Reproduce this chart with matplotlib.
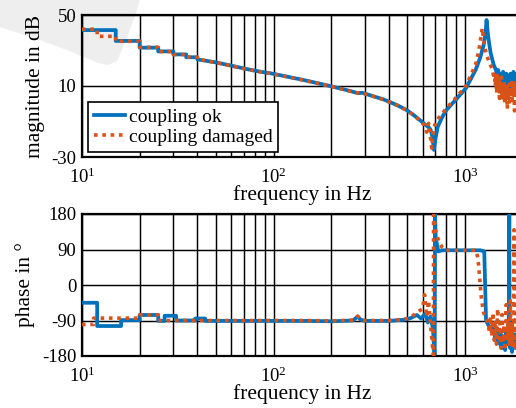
import numpy as np
import matplotlib
matplotlib.use("Agg")
import matplotlib.pyplot as plt
from matplotlib.patches import Polygon

# magnitude, coupling ok
mag_ok_f = [10, 15, 15, 20, 20, 25, 25, 30, 30, 35, 35, 40, 40, 50, 60, 72, 85, 96, 120, 143,
            170, 197, 225, 251, 277, 290, 300, 330, 374, 440, 495, 538, 560, 590, 620, 645, 660,
            672, 688, 700, 720, 760, 800, 890, 1010, 1135, 1200, 1250, 1280, 1295, 1320, 1360,
            1410, 1450, 1475, 1490, 1505, 1520, 1535, 1550, 1565, 1580, 1595, 1610, 1625, 1640,
            1655, 1670, 1685, 1700, 1715, 1730, 1745, 1760, 1775, 1790, 1805, 1820, 1835, 1850,
            1870, 1900]
mag_ok = [41.5, 41.5, 35.4, 35.4, 31.6, 31.6, 29.5, 29.5, 27.8, 27.8, 26.2, 26.2, 25.0, 23.3,
          21.5, 19.6, 18.1, 17.2, 15.1, 13.4, 11.6, 10.0, 8.5, 7.2, 5.9, 6.2, 5.7, 4.3, 2.5,
          -0.7, -3.5, -6.3, -7.8, -9.8, -11.8, -13.2, -14.5, -17.5, -26, -20, -13, -7.5, -3.5,
          2.0, 8.7, 19, 26, 33, 40, 47.2, 38, 28.6, 22, 19, 15, 19, 12, 17, 9, 16, 13, 18, 8,
          15, 11, 17, 6, 14, 10, 16, 12, 17, 9, 15, 13, 18, 11, 16, 14, 17, 15, 16]

# magnitude, coupling damaged
mag_dmg_f = [10, 12, 12, 15, 15, 20, 20, 25, 25, 30, 30, 35, 35, 40, 40, 50, 60, 72, 85, 96,
             120, 143, 170, 197, 225, 251, 277, 290, 300, 330, 374, 440, 495, 538, 560, 590,
             615, 630, 645, 660, 670, 682, 695, 715, 760, 800, 890, 1010, 1135, 1180, 1230,
             1250, 1290, 1330, 1380, 1400, 1412, 1425, 1437, 1450, 1462, 1475, 1487, 1500,
             1512, 1525, 1537, 1550, 1562, 1575, 1587, 1600, 1612, 1625, 1637, 1650, 1662,
             1675, 1687, 1700, 1712, 1725, 1737, 1750, 1762, 1775, 1787, 1800, 1812, 1825,
             1837, 1850, 1870, 1900]
mag_dmg = [42, 42, 38, 38, 35.2, 35.2, 31.8, 31.8, 29.4, 29.4, 27.7, 27.7, 26.3, 26.3, 25.1,
           23.2, 21.4, 19.5, 18.0, 17.1, 15.0, 13.3, 11.5, 9.9, 8.4, 7.1, 6.0, 6.4, 5.6, 4.2,
           2.4, -0.8, -3.6, -6.4, -8.0, -10.5, -12, -16, -11, -19, -25, -15, -12, -9, -5.5,
           -2.5, 3.0, 10, 22, 30, 42.5, 36, 28, 24, 20, 18, 14, 17, 10, 15, 6, 16, 8, 14, 3,
           12, 7, 15, 2, 11, 5, 13, 0, 10, 4, 12, -3, 8, 3, 11, 1, 9, 5, 12, 2, 10, 6, 13,
           -4, 9, 4, 11, 7, 10]

# phase, coupling ok
ph_ok_f = [10, 12, 12, 16, 16, 20, 20, 25, 25, 27, 27, 31, 31, 39, 39, 44, 44, 100, 150, 200,
           260, 275, 285, 300, 400, 480, 520, 560, 590, 620, 640, 660, 680, 693, 697, 703,
           725, 760, 1200, 1260, 1287, 1320, 1340, 1370, 1400, 1420, 1440, 1460, 1480, 1500,
           1520, 1540, 1560, 1580, 1600, 1620, 1640, 1660, 1680, 1695, 1702, 1708, 1720,
           1740, 1760, 1780, 1800, 1820, 1840, 1860, 1900]
ph_ok = [-45, -45, -104, -104, -89, -89, -76, -76, -91, -91, -78, -78, -90, -90, -85, -85,
         -91, -91, -91, -92, -90, -80, -88, -91, -91, -88, -84, -76, -85, -72, -95, -80,
         -110, -177, 180, 120, 85, 88, 88, 85, -89, -101, -105, -112, -120, -108, -135, -115,
         -145, -120, -150, -125, -160, -130, -140, -165, -120, -150, -130, -60, 178, -90,
         -160, -130, -170, -140, -155, -125, -160, -140, -150]

# phase, coupling damaged
ph_dmg_f = [10, 11.5, 11.5, 20, 20, 25, 25, 100, 150, 200, 260, 275, 285, 300, 400, 480, 520,
            560, 600, 615, 630, 645, 660, 683, 685, 700, 730, 760, 790, 1140, 1165, 1180, 1200,
            1220, 1250, 1287, 1320, 1340, 1360, 1380, 1400, 1420, 1440, 1460, 1480, 1500,
            1520, 1540, 1560, 1580, 1600, 1620, 1640, 1660, 1680, 1700, 1720, 1740, 1760,
            1780, 1795, 1802, 1810, 1825, 1840, 1860, 1900]
ph_dmg = [-100, -100, -84, -84, -76, -76, -90, -90, -90, -91, -89, -79, -87, -90, -90, -87,
          -82, -70, -60, -25, -80, -40, -100, -178, 178, 140, 110, 95, 88, 88, 70, 45, 0, -38,
          -70, -85, -95, -120, -80, -130, -70, -140, -90, -150, -60, -135, -95, -160, -75,
          -145, -100, -165, -50, -140, -90, -155, -40, -150, -100, -160, -60, 140, -120,
          -165, -80, -150, -110]

mag_ticks = [-30, 10, 50]
ph_ticks = [-180, -90, 0, 90, 180]

blue = "#0072BD"
orange = "#D95319"

plt.rcParams["font.family"] = ["Liberation Serif", "DejaVu Serif"]
plt.rcParams["mathtext.fontset"] = "custom"
plt.rcParams["mathtext.rm"] = "Liberation Serif"
plt.rcParams["axes.unicode_minus"] = False

fig = plt.figure(figsize=(5.16, 4.08), dpi=100)
W, H = 516.0, 408.0
axw = 440.7 / W
ax1 = fig.add_axes([82 / W, 1 - 157 / H, axw, 142 / H])
ax2 = fig.add_axes([82 / W, 1 - 356 / H, axw, 142 / H])

# faint grey mark in the corner of the source image
pts = [(0, 0), (0, 27), (40, 40), (67, 50), (98, 63), (108, 65), (117, 61), (127, 38),
       (137, 10), (140, 0)]
ax1.add_patch(Polygon([(x / W, 1 - y / H) for x, y in pts], closed=True,
                      transform=fig.transFigure, facecolor="#eeeeee", edgecolor="none",
                      zorder=0.3, clip_on=False))

ax1.plot(mag_ok_f, mag_ok, color=blue, lw=2.7, label="coupling ok", zorder=3)
ax1.plot(mag_dmg_f, mag_dmg, color=orange, lw=2.6, dashes=(1, 1.3),
         label="coupling damaged", zorder=4)
ax2.plot(ph_ok_f, ph_ok, color=blue, lw=2.7, zorder=3)
ax2.plot(ph_dmg_f, ph_dmg, color=orange, lw=2.6, dashes=(1, 1.3), zorder=4)

for ax, ticks, lab in [(ax1, mag_ticks, "magnitude in dB"), (ax2, ph_ticks, "phase in °")]:
    ax.set_xscale("log")
    ax.set_xlim(10, 2000)
    ax.set_ylim(ticks[0], ticks[-1])
    ax.set_yticks(ticks)
    ax.set_xticks([10, 100, 1000])
    ax.grid(True, which="both", axis="x", color="black", lw=1.05, alpha=1)
    ax.grid(True, which="major", axis="y", color="black", lw=1.05, alpha=1)
    ax.set_axisbelow(True)
    ax.tick_params(axis="both", which="both", direction="in", labelsize=13.5, length=0)
    ax.tick_params(axis="x", pad=7.5)
    ax.tick_params(axis="y", pad=4)
    for s in ax.spines.values():
        s.set_linewidth(1.6)
    ax.set_xlabel("frequency in Hz", fontsize=15.5)
    ax.xaxis.set_label_coords(0.5, -0.2)
    ax.set_ylabel(lab, fontsize=15.5)

ax1.yaxis.set_label_coords(-0.084, 0.5)
ax2.yaxis.set_label_coords(-0.107, 0.5)

leg = ax1.legend(loc="lower left", bbox_to_anchor=(0.0136, 0.035), borderaxespad=0,
                 fontsize=14, fancybox=False, framealpha=1, edgecolor="black",
                 handlelength=1.6, handletextpad=0.2, borderpad=0.3, labelspacing=0.15)
leg.get_frame().set_linewidth(1.2)

fig.savefig("out.png", dpi=100)
